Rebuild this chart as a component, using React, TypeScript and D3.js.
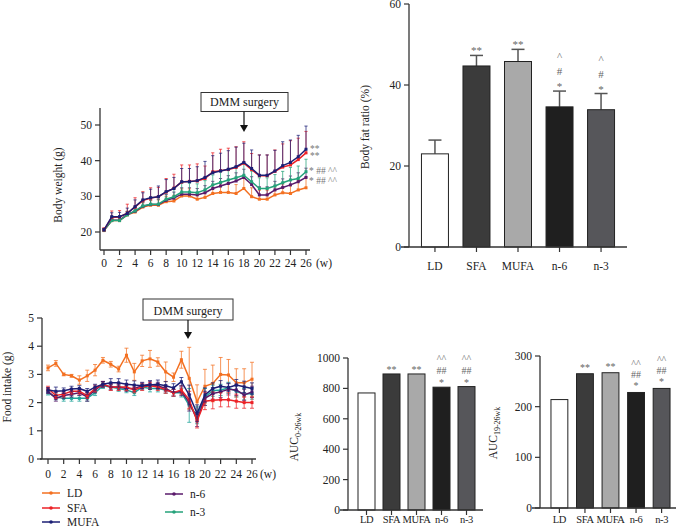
import React from 'react';
import * as d3 from 'd3';

const WEEKS = [0, 1, 2, 3, 4, 5, 6, 7, 8, 9, 10, 11, 12, 13, 14, 15, 16, 17, 18, 19, 20, 21, 22, 23, 24, 25, 26];
const GROUPS = ['LD', 'SFA', 'MUFA', 'n-6', 'n-3'];
const LINE_COLORS = ['#f37021', '#ec2227', '#1c1f75', '#5a1a6b', '#25a27a'];
const BAR_FILLS = ['#ffffff', '#3b3b3b', '#a9a9a9', '#1f1f1f', '#56565a'];

// Body weight (g), weeks 0-26
const BW_LD = [20.4, 23.2, 23.2, 24.8, 25.6, 27.0, 27.5, 27.5, 28.5, 28.7, 30.1, 30.1, 29.2, 29.7, 30.8, 31.1, 31.1, 30.8, 32.2, 29.9, 29.2, 29.2, 30.4, 31.0, 30.8, 31.8, 32.4];
const BW_SFA = [20.6, 24.1, 24.2, 25.3, 27.0, 28.8, 29.5, 29.9, 31.2, 32.3, 34.0, 34.2, 34.3, 35.0, 36.9, 37.2, 37.5, 38.1, 39.3, 37.5, 35.8, 35.8, 37.0, 38.2, 38.8, 40.3, 42.2];
const BW_MUFA = [20.6, 24.3, 24.3, 25.2, 27.1, 29.0, 29.6, 29.9, 31.3, 32.2, 34.1, 34.1, 34.4, 35.3, 36.6, 37.1, 37.6, 38.3, 39.5, 37.8, 35.9, 35.9, 37.1, 38.6, 39.5, 41.1, 43.2];
const BW_N6 = [20.5, 23.3, 23.3, 24.9, 25.8, 27.2, 27.7, 27.7, 28.9, 29.5, 30.6, 30.6, 30.4, 31.0, 32.2, 32.9, 33.6, 34.3, 35.3, 33.3, 30.4, 30.4, 31.8, 32.5, 33.2, 34.1, 35.3];
const BW_N3 = [20.5, 23.2, 23.2, 24.8, 25.9, 27.3, 27.8, 27.8, 29.2, 29.9, 31.2, 31.2, 31.0, 31.8, 33.2, 33.9, 34.6, 35.2, 35.9, 34.1, 32.2, 32.2, 32.9, 33.8, 34.6, 35.0, 36.9];
const BW_LD_ERR = [0.3, 0.8, 0.8, 1.0, 1.0, 1.2, 1.3, 1.5, 1.5, 1.6, 2.0, 2.0, 1.8, 2.0, 2.5, 2.5, 2.5, 2.5, 2.8, 2.5, 2.5, 2.5, 2.5, 2.5, 2.5, 2.8, 3.0];
const BW_SFA_ERR = [0.6, 1.8, 1.8, 2.5, 2.6, 2.5, 2.9, 2.6, 3.8, 3.9, 4.8, 4.6, 4.8, 3.5, 5.3, 6.0, 6.0, 5.8, 6.0, 4.5, 5.8, 5.8, 6.0, 6.5, 6.8, 6.0, 6.0];
const BW_MUFA_ERR = [0.4, 1.1, 1.2, 1.5, 1.9, 2.0, 2.4, 3.0, 3.4, 3.1, 3.7, 3.7, 3.9, 4.5, 4.8, 5.0, 5.2, 5.5, 5.4, 5.2, 5.7, 5.7, 5.8, 6.7, 6.3, 6.0, 6.5];
const BW_N6_ERR = [0.3, 0.6, 0.6, 0.8, 1.0, 1.2, 1.3, 1.5, 1.6, 1.7, 1.8, 1.8, 1.8, 2.0, 2.0, 2.1, 2.2, 2.3, 2.3, 2.2, 2.3, 2.3, 2.4, 2.4, 2.5, 2.5, 2.6];
const BW_N3_ERR = [0.4, 0.8, 0.8, 1.0, 1.2, 1.5, 1.8, 2.0, 2.2, 2.3, 2.5, 2.5, 2.5, 2.6, 2.8, 3.0, 3.0, 3.2, 3.2, 3.0, 3.0, 3.0, 3.2, 3.2, 3.5, 3.5, 3.5];

// Food intake (g), weeks 0-26
const FI_LD = [3.23, 3.39, 3.0, 2.95, 2.8, 2.95, 3.15, 3.5, 3.36, 3.19, 3.68, 3.09, 3.48, 3.55, 3.44, 3.09, 2.9, 3.52, 2.86, 2.03, 2.58, 2.68, 3.0, 2.98, 2.7, 2.7, 2.83];
const FI_SFA = [2.5, 2.25, 2.3, 2.4, 2.4, 2.25, 2.5, 2.65, 2.55, 2.55, 2.55, 2.45, 2.55, 2.6, 2.55, 2.45, 2.35, 2.45, 2.1, 1.35, 2.05, 2.08, 2.1, 2.1, 2.05, 2.0, 2.0];
const FI_MUFA = [2.45, 2.4, 2.42, 2.48, 2.5, 2.4, 2.55, 2.65, 2.7, 2.7, 2.65, 2.62, 2.6, 2.62, 2.65, 2.6, 2.52, 2.74, 2.27, 1.62, 2.27, 2.5, 2.58, 2.54, 2.62, 2.56, 2.5];
const FI_N6 = [2.4, 2.15, 2.25, 2.3, 2.35, 2.2, 2.45, 2.65, 2.55, 2.55, 2.5, 2.5, 2.6, 2.65, 2.6, 2.5, 2.35, 2.4, 2.0, 1.4, 2.15, 2.32, 2.38, 2.47, 2.45, 2.27, 2.38];
const FI_N3 = [2.35, 2.2, 2.15, 2.15, 2.15, 2.15, 2.35, 2.6, 2.55, 2.5, 2.45, 2.35, 2.55, 2.5, 2.5, 2.45, 2.35, 2.35, 1.9, 1.55, 2.2, 2.42, 2.45, 2.52, 2.4, 2.3, 2.32];
const FI_LD_ERR = [0.1, 0.1, 0.05, 0.05, 0.15, 0.2, 0.2, 0.1, 0.1, 0.1, 0.25, 0.3, 0.2, 0.3, 0.15, 0.35, 0.15, 0.3, 1.1, 0.6, 0.6, 0.65, 0.6, 0.55, 0.5, 0.5, 0.6];
const FI_SFA_ERR = [0.08, 0.1, 0.1, 0.1, 0.1, 0.1, 0.12, 0.1, 0.12, 0.12, 0.12, 0.1, 0.12, 0.12, 0.12, 0.12, 0.12, 0.15, 0.3, 0.25, 0.3, 0.3, 0.25, 0.25, 0.25, 0.2, 0.2];
const FI_MUFA_ERR = [0.08, 0.15, 0.1, 0.1, 0.1, 0.1, 0.1, 0.1, 0.15, 0.15, 0.15, 0.15, 0.1, 0.15, 0.15, 0.15, 0.15, 0.15, 0.35, 0.3, 0.25, 0.2, 0.2, 0.15, 0.2, 0.2, 0.2];
const FI_N6_ERR = [0.08, 0.1, 0.1, 0.1, 0.1, 0.15, 0.1, 0.1, 0.1, 0.1, 0.1, 0.1, 0.12, 0.12, 0.12, 0.12, 0.12, 0.15, 0.3, 0.25, 0.25, 0.2, 0.2, 0.2, 0.2, 0.2, 0.2];
const FI_N3_ERR = [0.08, 0.1, 0.1, 0.1, 0.1, 0.1, 0.1, 0.1, 0.1, 0.1, 0.1, 0.1, 0.1, 0.12, 0.12, 0.12, 0.12, 0.15, 0.6, 0.3, 0.3, 0.2, 0.2, 0.2, 0.2, 0.2, 0.2];

// Body fat ratio (%)
const BF_VALUES = [23.0, 44.7, 45.8, 34.6, 33.9];
const BF_ERR = [3.4, 2.6, 3.0, 3.9, 4.0];
const BF_ANN = [[], ['**'], ['**'], ['*', '#', '^'], ['*', '#', '^']];

// AUC
const AUC_ALL = [770, 895, 895, 808, 812];
const AUC_ALL_ANN = [[], ['**'], ['**'], ['*', '##', '^^'], ['*', '##', '^^']];
const AUC_POST = [214, 265, 267, 228, 236];
const AUC_POST_ANN = [[], ['**'], ['**'], ['*', '##', '^^'], ['*', '##', '^^']];

const BW_TICKS_Y = [20, 30, 40, 50];
const FI_TICKS_Y = [0, 1, 2, 3, 4, 5];
const WEEK_TICKS = [0, 2, 4, 6, 8, 10, 12, 14, 16, 18, 20, 22, 24, 26];
const BF_TICKS = [0, 20, 40, 60];
const AUC_ALL_TICKS = [0, 200, 400, 600, 800, 1000];
const AUC_POST_TICKS = [0, 100, 200, 300];

const FONT = "'Liberation Serif', 'Times New Roman', serif";
const AX = '#333';
const FS = 11.5;

type Sc = d3.ScaleLinear<number, number>;

function Series({ x, y, vals, errs, color, symmetric, cap, size }: { x: Sc; y: Sc; vals: number[]; errs: number[]; color: string; symmetric: boolean; cap: number; size: number }) {
  const line = d3.line<number>().x((_, i) => x(WEEKS[i])).y((d) => y(d));
  return (
    <g>
      {vals.map((v, i) => {
        const cx = x(WEEKS[i]);
        const top = y(v + errs[i]);
        const bot = symmetric ? y(v - errs[i]) : y(v);
        return (
          <g key={i} stroke={color} strokeOpacity={0.75} strokeWidth={1}>
            <line x1={cx} x2={cx} y1={top} y2={bot} />
            <line x1={cx - cap} x2={cx + cap} y1={top} y2={top} />
            {symmetric && <line x1={cx - cap} x2={cx + cap} y1={bot} y2={bot} />}
          </g>
        );
      })}
      <path d={line(vals) || ''} fill="none" stroke={color} strokeWidth={1.5} />
      {vals.map((v, i) => (
        <rect key={i} x={x(WEEKS[i]) - size / 2} y={y(v) - size / 2} width={size} height={size} fill={color} />
      ))}
    </g>
  );
}

function DmmBox({ x0, x1, y0, y1, ax, tip }: { x0: number; x1: number; y0: number; y1: number; ax: number; tip: number }) {
  return (
    <g>
      <rect x={x0} y={y0} width={x1 - x0} height={y1 - y0} fill="#fff" stroke="#333" strokeWidth={1} />
      <text x={(x0 + x1) / 2} y={y1 - 5.5} textAnchor="middle" fontSize={12} fill="#222">DMM surgery</text>
      <line x1={ax} x2={ax} y1={y1} y2={tip - 6} stroke="#111" strokeWidth={1.2} />
      <path d={`M${ax - 4},${tip - 7} L${ax + 4},${tip - 7} L${ax},${tip} Z`} fill="#111" />
    </g>
  );
}

function BodyWeight() {
  const x = d3.scaleLinear().domain([0, 26]).range([104, 306]);
  const y = d3.scaleLinear().domain([20, 50]).range([232, 125]);
  const data = [BW_LD, BW_N6, BW_N3, BW_SFA, BW_MUFA];
  const errs = [BW_LD_ERR, BW_N6_ERR, BW_N3_ERR, BW_SFA_ERR, BW_MUFA_ERR];
  const cols = [LINE_COLORS[0], LINE_COLORS[3], LINE_COLORS[4], LINE_COLORS[1], LINE_COLORS[2]];
  return (
    <g>
      <line x1={100} x2={100} y1={108} y2={250} stroke={AX} strokeWidth={1.3} />
      <line x1={100} x2={310} y1={250} y2={250} stroke={AX} strokeWidth={1.3} />
      {BW_TICKS_Y.map((t) => (
        <g key={t}>
          <line x1={95} x2={100} y1={y(t)} y2={y(t)} stroke={AX} strokeWidth={1.2} />
          <text x={92} y={y(t) + 4} textAnchor="end" fontSize={FS} fill="#222">{t}</text>
        </g>
      ))}
      {WEEK_TICKS.map((t) => (
        <g key={t}>
          <line x1={x(t)} x2={x(t)} y1={250} y2={255} stroke={AX} strokeWidth={1.2} />
          <text x={x(t)} y={267} textAnchor="middle" fontSize={FS} fill="#222">{t}</text>
        </g>
      ))}
      <text x={324} y={267} textAnchor="middle" fontSize={FS} fill="#222">(w)</text>
      <text transform={`translate(62,185) rotate(-90)`} textAnchor="middle" fontSize={11.5} fill="#222">Body weight (g)</text>
      {data.map((d, i) => (
        <Series key={i} x={x} y={y} vals={d} errs={errs[i]} color={cols[i]} symmetric={false} cap={1.6} size={3} />
      ))}
      <g fontSize={9.5} fill="#777">
        <text x={310} y={152}>**</text>
        <text x={310} y={158.5}>**</text>
        <text x={309} y={174}>* ## ^^</text>
        <text x={309} y={184}>* ## ^^</text>
      </g>
      <DmmBox x0={201} x1={288} y0={92.5} y1={111.5} ax={244} tip={132} />
    </g>
  );
}

function FoodIntake() {
  const x = d3.scaleLinear().domain([0, 26]).range([48, 252]);
  const y = d3.scaleLinear().domain([0, 5]).range([459, 318]);
  const data = [FI_LD, FI_N3, FI_N6, FI_SFA, FI_MUFA];
  const errs = [FI_LD_ERR, FI_N3_ERR, FI_N6_ERR, FI_SFA_ERR, FI_MUFA_ERR];
  const cols = [LINE_COLORS[0], '#1fa39a', LINE_COLORS[3], LINE_COLORS[1], LINE_COLORS[2]];
  return (
    <g>
      <line x1={42} x2={42} y1={318} y2={459} stroke={AX} strokeWidth={1.3} />
      <line x1={40} x2={256} y1={459} y2={459} stroke={AX} strokeWidth={1.3} />
      {FI_TICKS_Y.map((t) => (
        <g key={t}>
          <line x1={37} x2={42} y1={y(t)} y2={y(t)} stroke={AX} strokeWidth={1.2} />
          <text x={34} y={y(t) + 4} textAnchor="end" fontSize={FS} fill="#222">{t}</text>
        </g>
      ))}
      {WEEK_TICKS.map((t) => (
        <g key={t}>
          <line x1={x(t)} x2={x(t)} y1={459} y2={464} stroke={AX} strokeWidth={1.2} />
          <text x={x(t)} y={478} textAnchor="middle" fontSize={FS} fill="#222">{t}</text>
        </g>
      ))}
      <text x={268} y={478} textAnchor="middle" fontSize={FS} fill="#222">(w)</text>
      <text transform={`translate(11,387) rotate(-90)`} textAnchor="middle" fontSize={11.5} fill="#222">Food intake (g)</text>
      {data.map((d, i) => (
        <Series key={i} x={x} y={y} vals={d} errs={errs[i]} color={cols[i]} symmetric={true} cap={2} size={3} />
      ))}
      <DmmBox x0={143} x1={233} y0={299} y1={320} ax={188} tip={339} />
    </g>
  );
}

function Legend() {
  const items = [
    { g: 0, x: 42, y: 493 },
    { g: 1, x: 42, y: 508 },
    { g: 2, x: 42, y: 522 },
    { g: 3, x: 165, y: 494 },
    { g: 4, x: 165, y: 512 },
  ];
  return (
    <g>
      {items.map((it) => (
        <g key={it.g}>
          <line x1={it.x} x2={it.x + 18} y1={it.y} y2={it.y} stroke={LINE_COLORS[it.g]} strokeWidth={1.5} />
          <circle cx={it.x + 9} cy={it.y} r={1.8} fill={LINE_COLORS[it.g]} />
          <text x={it.x + 25} y={it.y + 4} fontSize={FS} fill="#222">{GROUPS[it.g]}</text>
        </g>
      ))}
    </g>
  );
}

function BarPanel({ values, errs, ann, domainMax, yTop, yBottom, axisX, xEnd, rangeL, rangeR, padIn, padOut, ticks, labelY, labelSize, labelSpacing, annStep, annOff, annSize, ylabel }: any) {
  const y = d3.scaleLinear().domain([0, domainMax]).range([yBottom, yTop]);
  const xb = d3.scaleBand<string>().domain(GROUPS).range([rangeL, rangeR]).paddingInner(padIn).paddingOuter(padOut);
  const bw = xb.bandwidth();
  return (
    <g>
      {GROUPS.map((g, i) => {
        const bx = xb(g) as number;
        const top = y(values[i]);
        const etop = errs ? y(values[i] + errs[i]) : top;
        const cx = bx + bw / 2;
        return (
          <g key={g}>
            {errs && (
              <g stroke="#555" strokeWidth={1.5}>
                <line x1={cx} x2={cx} y1={top} y2={etop} />
                <line x1={cx - 6.5} x2={cx + 6.5} y1={etop} y2={etop} />
              </g>
            )}
            <rect x={bx} y={top} width={bw} height={yBottom - top} fill={BAR_FILLS[i]} stroke="#222" strokeWidth={1} />
            <line x1={cx} x2={cx} y1={yBottom} y2={yBottom + 5} stroke={AX} strokeWidth={1.2} />
            <text x={cx} y={labelY} textAnchor="middle" fontSize={labelSize} letterSpacing={labelSpacing} fill="#222">{g}</text>
            {ann[i].map((s: string, k: number) => (
              <text key={k} x={cx} y={etop - annOff - k * annStep} textAnchor="middle" fontSize={annSize} fill="#666">{s}</text>
            ))}
          </g>
        );
      })}
      <line x1={axisX} x2={axisX} y1={yTop} y2={yBottom} stroke={AX} strokeWidth={1.3} />
      <line x1={axisX - 8} x2={xEnd} y1={yBottom} y2={yBottom} stroke={AX} strokeWidth={1.3} />
      {ticks.map((t: number) => (
        <g key={t}>
          <line x1={axisX - 5} x2={axisX} y1={y(t)} y2={y(t)} stroke={AX} strokeWidth={1.2} />
          <text x={axisX - 8} y={y(t) + 4} textAnchor="end" fontSize={FS} fill="#222">{t}</text>
        </g>
      ))}
      {ylabel}
    </g>
  );
}

export default function App() {
  return (
    <svg width={679} height={526} style={{ position: 'absolute', left: 0, top: 0, background: '#fff' }} fontFamily={FONT}>
      <rect x={0} y={0} width={679} height={526} fill="#fff" />
      <BodyWeight />
      <BarPanel
        values={BF_VALUES} errs={BF_ERR} ann={BF_ANN} domainMax={60} yTop={4} yBottom={247}
        axisX={409} xEnd={627} rangeL={409} rangeR={627} padIn={0.35} padOut={0.3} ticks={BF_TICKS}
        labelY={270} labelSize={11.5} labelSpacing={0} annStep={15} annOff={1} annSize={11}
        ylabel={<text transform="translate(369,127) rotate(-90)" textAnchor="middle" fontSize={11.5} fill="#222">Body fat ratio (%)</text>}
      />
      <FoodIntake />
      <Legend />
      <BarPanel
        values={AUC_ALL} errs={null} ann={AUC_ALL_ANN} domainMax={1000} yTop={358} yBottom={510}
        axisX={348} xEnd={483} rangeL={350.5} rangeR={482.5} padIn={0.32} padOut={0.3} ticks={AUC_ALL_TICKS}
        labelY={523} labelSize={10.5} labelSpacing={-0.4} annStep={12} annOff={1} annSize={10}
        ylabel={
          <text transform="translate(298,437) rotate(-90)" textAnchor="middle" fontSize={11.5} fill="#222">
            AUC<tspan fontSize={8} dy={3}>0-26wk</tspan>
          </text>
        }
      />
      <BarPanel
        values={AUC_POST} errs={null} ann={AUC_POST_ANN} domainMax={300} yTop={356} yBottom={508}
        axisX={540} xEnd={676} rangeL={543.3} rangeR={677.7} padIn={0.34} padOut={0.3} ticks={AUC_POST_TICKS}
        labelY={523} labelSize={10.5} labelSpacing={-0.4} annStep={11} annOff={3} annSize={10}
        ylabel={
          <text transform="translate(497,433) rotate(-90)" textAnchor="middle" fontSize={11.5} fill="#222">
            AUC<tspan fontSize={8} dy={3}>19-26wk</tspan>
          </text>
        }
      />
    </svg>
  );
}
